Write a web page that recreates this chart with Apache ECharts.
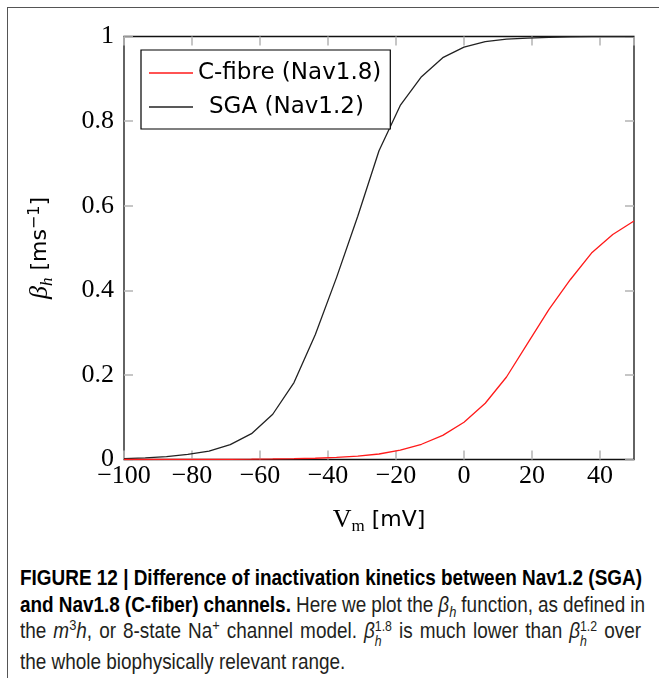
<!DOCTYPE html>
<html>
<head>
<meta charset="utf-8">
<script src="https://cdn.jsdelivr.net/npm/echarts@6/dist/echarts.min.js"></script>
<style>
  html, body { margin: 0; padding: 0; background: #fff; }
  #page { position: relative; width: 659px; height: 678px; overflow: hidden; }
  #frame { position: absolute; left: 7px; top: 7px; width: 700px; height: 700px; border: 1px solid #555; }
  #chart { position: absolute; left: 0; top: 0; width: 659px; height: 550px; }
  #caption {
    position: absolute; left: 20px; top: 565px;
    font-family: "Liberation Sans", Arial, sans-serif;
    font-size: 22px; line-height: 26.5px; color: #231f20; white-space: nowrap;
    transform-origin: 0 0;
  }
  #caption .ln { display: block; }
  #caption b { color: #000; }
  #caption sub, #caption sup { font-size: 68%; line-height: 0; }
  #caption .stack { display: inline-block; font-size: 65%; line-height: 1.05; vertical-align: -0.55em; text-align: left; }
  #caption .stack span { display: block; }
</style>
</head>
<body>
<div id="page">
  <div id="frame"></div>
  <div id="chart"></div>
  <div id="caption">
    <span class="ln"><span id="line1"><b>FIGURE 12 | Difference of inactivation kinetics between Nav1.2 (SGA)</b></span></span>
    <span class="ln"><span id="line2"><b>and Nav1.8 (C-fiber) channels.</b> Here we plot the <i>β<sub>h</sub></i> function, as defined in</span></span>
    <span class="ln"><span id="line3">the <i>m</i><sup>3</sup><i>h</i>, or 8-state Na<sup>+</sup> channel model. <i>β</i><span class="stack"><span>1.8</span><span><i>h</i></span></span> is much lower than <i>β</i><span class="stack"><span>1.2</span><span><i>h</i></span></span> over</span></span>
    <span class="ln"><span id="line4">the whole biophysically relevant range.</span></span>
  </div>
</div>
<script>
// membrane potential samples (mV)
const voltages = [-100, -93.75, -87.5, -81.25, -75, -68.75, -62.5, -56.25, -50, -43.75,
  -37.5, -31.25, -25, -18.75, -12.5, -6.25, 0, 6.25, 12.5, 18.75, 25, 31.25, 37.5, 43.75, 50]

// beta_h (ms^-1)
const cfibreBeta = [0, 0, 0.0001, 0.0002, 0.0003, 0.0005, 0.0008, 0.0013, 0.002, 0.003,
  0.005, 0.008, 0.013, 0.022, 0.036, 0.057, 0.088, 0.133, 0.195, 0.275, 0.355, 0.425, 0.488, 0.532, 0.564]
const sgaBeta = [0.002, 0.004, 0.007, 0.012, 0.020, 0.035, 0.061, 0.107, 0.182, 0.295,
  0.43, 0.575, 0.73, 0.837, 0.905, 0.95, 0.975, 0.988, 0.994, 0.996, 0.998, 0.999, 1.0, 1.0, 1.0]

const seriesNames = ['C-fibre (Nav1.8)', 'SGA (Nav1.2)']

const serif = '"Liberation Serif", "DejaVu Serif", serif'
const sans = '"DejaVu Sans", sans-serif'
const tickGray = '#b8b8b8'

// caption: measure untransformed widths, stretch word gaps, then squeeze
const caption = document.getElementById('caption')
const w1 = document.getElementById('line1').getBoundingClientRect().width
const k = 622 / w1
const lineTargets = { line2: 625, line3: 621 }
Object.keys(lineTargets).forEach(id => {
  const el = document.getElementById(id)
  const w = el.getBoundingClientRect().width
  const gaps = (el.textContent.match(/ /g) || []).length
  el.style.wordSpacing = ((lineTargets[id] / k - w) / gaps) + 'px'
})
caption.style.transform = 'scaleX(' + k + ')'

const chart = echarts.init(document.getElementById('chart'), null, { renderer: 'canvas' })

function minusFmt(v) {
  return v < 0 ? '\u2212' + Math.abs(v) : String(v)
}

const tickStyle = { show: true, inside: true, length: 9, lineStyle: { color: tickGray, width: 1.6 } }

const xCommon = {
  type: 'value',
  min: -100,
  max: 50,
  interval: 20,
  axisLine: { show: false, onZero: false },
  axisTick: tickStyle,
  splitLine: { show: false }
}
const yCommon = {
  type: 'value',
  min: 0,
  max: 1,
  interval: 0.2,
  axisLine: { show: false, onZero: false },
  axisTick: tickStyle,
  splitLine: { show: false }
}

const option = {
  animation: false,
  backgroundColor: 'transparent',
  grid: {
    left: 124, right: 25, top: 36.5, bottom: 90.5,
    show: true, borderColor: '#111', borderWidth: 1.3, backgroundColor: 'transparent'
  },
  legend: {
    orient: 'vertical',
    left: 141,
    top: 50,
    padding: [9, 9, 8, 8],
    itemGap: 6,
    itemWidth: 44,
    itemHeight: 1.4,
    icon: 'rect',
    borderColor: '#000',
    borderWidth: 1.2,
    backgroundColor: '#fff',
    data: seriesNames,
    textStyle: { fontFamily: sans, fontSize: 23, color: '#000', lineHeight: 28,
      rich: { p: { fontFamily: sans, fontSize: 23, color: '#000', lineHeight: 28, padding: [0, 0, 0, 11] } } },
    formatter: name => name === 'SGA (Nav1.2)' ? '{p|' + name + '}' : name
  },
  xAxis: [
    Object.assign({}, xCommon, {
      position: 'bottom',
      name: '{v|V}{s|m}{u| [mV]}',
      nameLocation: 'middle',
      nameGap: 45,
      nameTextStyle: {
        rich: {
          v: { fontFamily: serif, fontSize: 26, color: '#000' },
          s: { fontFamily: serif, fontSize: 17, color: '#000', verticalAlign: 'bottom', padding: [14, 0, 0, 0] },
          u: { fontFamily: sans, fontSize: 22, color: '#000' }
        }
      },
      axisLabel: {
        fontFamily: serif, fontSize: 26, color: '#000', margin: 4,
        showMaxLabel: false, formatter: minusFmt
      }
    }),
    Object.assign({}, xCommon, { position: 'top', axisLabel: { show: false } })
  ],
  yAxis: [
    Object.assign({}, yCommon, {
      position: 'left',
      name: '{b|β}{h|h}{u| [ms}{e|\u22121}{u|]}',
      nameLocation: 'middle',
      nameRotate: 90,
      nameGap: 68,
      nameTextStyle: {
        rich: {
          b: { fontFamily: serif, fontStyle: 'italic', fontSize: 26, color: '#000' },
          h: { fontFamily: serif, fontStyle: 'italic', fontSize: 17, color: '#000', padding: [14, 0, 0, 0] },
          u: { fontFamily: sans, fontSize: 22, color: '#000' },
          e: { fontFamily: sans, fontSize: 16, color: '#000', padding: [0, 0, 12, 0] }
        }
      },
      axisLabel: { fontFamily: serif, fontSize: 26, color: '#000', margin: 10 }
    }),
    Object.assign({}, yCommon, { position: 'right', axisLabel: { show: false } })
  ],
  series: [
    {
      name: seriesNames[0],
      type: 'line',
      data: voltages.map((v, i) => [v, cfibreBeta[i]]),
      symbol: 'none',
      lineStyle: { color: '#ff1a1a', width: 1.3 },
      itemStyle: { color: '#ff1a1a' },
      z: 3
    },
    {
      name: seriesNames[1],
      type: 'line',
      data: voltages.map((v, i) => [v, sgaBeta[i]]),
      symbol: 'none',
      lineStyle: { color: '#222', width: 1.3 },
      itemStyle: { color: '#222' },
      z: 2
    }
  ]
}

chart.setOption(option)
</script>
</body>
</html>
